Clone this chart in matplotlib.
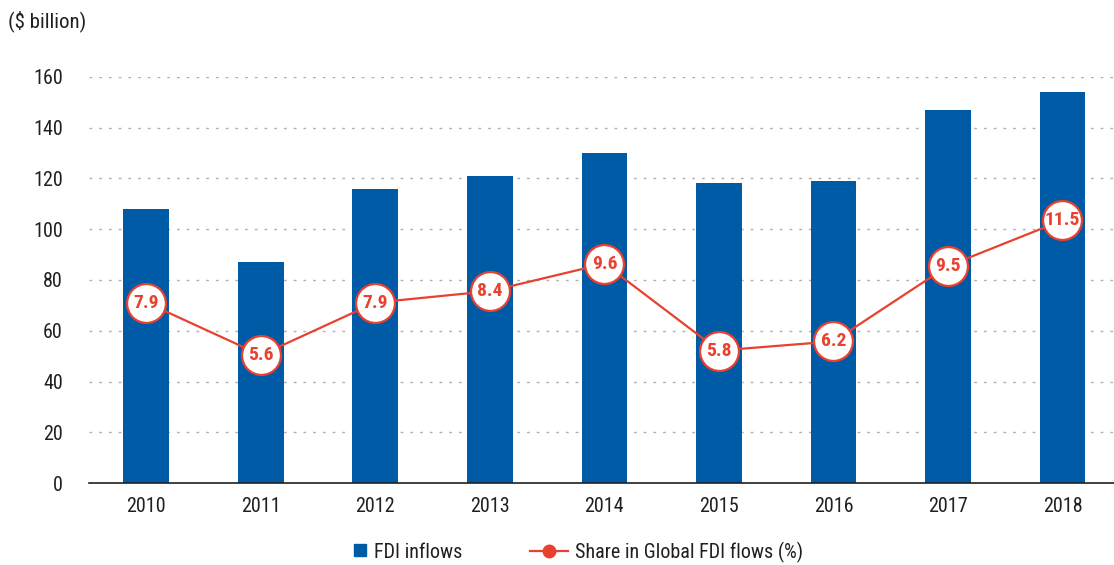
import numpy as np
import matplotlib.pyplot as plt
from matplotlib.lines import Line2D

plt.rcParams['font.family'] = ['Roboto Condensed', 'Liberation Sans', 'DejaVu Sans']

years = ['2010', '2011', '2012', '2013', '2014', '2015', '2016', '2017', '2018']
fdi_inflows = [108, 87, 116, 121, 130, 118, 119, 147, 154]
share_global = [7.9, 5.6, 7.9, 8.4, 9.6, 5.8, 6.2, 9.5, 11.5]

blue = '#005BA6'
red = '#E8412F'
dark = '#231f20'

fig = plt.figure(figsize=(11.14, 5.65), dpi=100)
ax = fig.add_axes([0.080, 0.145, 0.92, 0.719])
x = np.arange(len(years))

ax.bar(x, fdi_inflows, width=0.4, color=blue, zorder=2)
ax.set_ylim(0, 160)
ax.set_xlim(-0.5, 8.45)
ax.set_yticks(range(0, 161, 20))
ax.set_xticks(x)
ax.set_xticklabels(years)
ax.tick_params(axis='both', length=0, labelsize=14.5, colors=dark)
ax.tick_params(axis='y', pad=19)
ax.tick_params(axis='x', pad=10)
ax.grid(axis='y', color='#b0b0b0', linestyle=(0, (2, 5)), linewidth=1, zorder=0)
for s in ['left', 'right', 'top']:
    ax.spines[s].set_visible(False)
ax.spines['bottom'].set_color(dark)
ax.spines['bottom'].set_linewidth(1.2)

# share on hidden secondary scale
ax2 = ax.twinx()
ax2.set_ylim(0, 160 / 9.0)
ax2.axis('off')
ax2.plot(x, share_global, color=red, linewidth=1.6, marker='o', markersize=28,
         markerfacecolor='white', markeredgecolor=red, markeredgewidth=1.6,
         clip_on=False, zorder=3)
for xi, v in zip(x, share_global):
    ax2.text(xi, v, f'{v}', ha='center', va='center', color=red,
             fontsize=14, fontweight='bold', zorder=4)

fig.text(0.007, 0.962, '($ billion)', fontsize=15, color=dark, va='center')

leg1 = fig.legend([Line2D([0], [0], marker='s', color='none', markerfacecolor=blue,
                          markeredgecolor=blue, markersize=8)],
                  ['FDI inflows'], loc='center left', bbox_to_anchor=(0.307, 0.023),
                  frameon=False, fontsize=14.5, handlelength=0.8, handletextpad=0.3,
                  borderpad=0, labelcolor=dark)
leg2 = fig.legend([Line2D([0], [0], color=red, marker='o', markersize=9, linewidth=1.6)],
                  ['Share in Global FDI flows (%)'], loc='center left',
                  bbox_to_anchor=(0.467, 0.023), frameon=False, fontsize=14.5,
                  handlelength=1.85, handletextpad=0.35, borderpad=0, labelcolor=dark)

fig.savefig('out.png', dpi=100)
